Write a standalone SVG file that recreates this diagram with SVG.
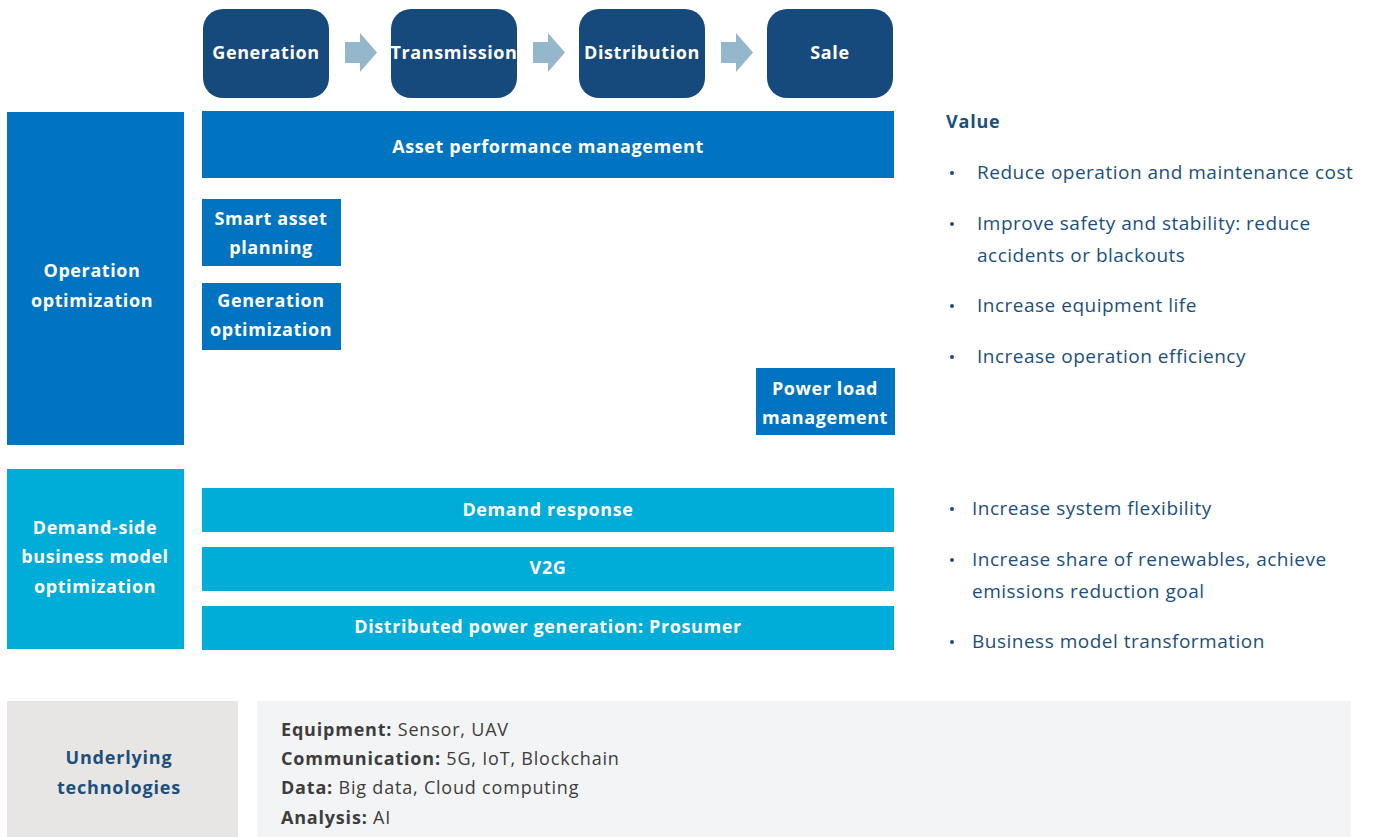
<svg xmlns="http://www.w3.org/2000/svg" width="1373" height="837" viewBox="0 0 1373 837">
<defs>
<style>
.stage{fill:#174a7c}
.op{fill:#0074c0}
.dm{fill:#00acd8}
.wb{font-family:"Open Sans","Liberation Sans",sans-serif;font-weight:700;font-size:18px;letter-spacing:0.6px;fill:#ffffff;text-anchor:middle}
.val{font-family:"Open Sans","Liberation Sans",sans-serif;font-size:19px;letter-spacing:0.5px;fill:#1c4f7c}
.valh{font-family:"Open Sans","Liberation Sans",sans-serif;font-size:18px;letter-spacing:0.8px;font-weight:700;fill:#1c4f7c}
.tech{font-family:"Open Sans","Liberation Sans",sans-serif;font-size:18px;letter-spacing:0.8px;fill:#3d3d3d}
.techb{font-weight:700}
.arrow{fill:#94b7cc}
</style>
</defs>
<rect width="1373" height="837" fill="#ffffff"/>
<g id="connectors">
<polygon class="arrow" points="345,42 360,42 360,33 377,52.5 360,72 360,63 345,63"/>
<polygon class="arrow" points="533,42 548,42 548,33 565,52.5 548,72 548,63 533,63"/>
<polygon class="arrow" points="721,42 736,42 736,33 753,52.5 736,72 736,63 721,63"/>
</g>
<g id="node-generation"><rect class="stage" x="203" y="9" width="126" height="89" rx="20"/><text class="wb" x="266" y="59">Generation</text></g>
<g id="node-transmission"><rect class="stage" x="391" y="9" width="126" height="89" rx="20"/><text class="wb" x="454" y="59">Transmission</text></g>
<g id="node-distribution"><rect class="stage" x="579" y="9" width="126" height="89" rx="20"/><text class="wb" x="642" y="59">Distribution</text></g>
<g id="node-sale"><rect class="stage" x="767" y="9" width="126" height="89" rx="20"/><text class="wb" x="830" y="59">Sale</text></g>

<g id="node-operation"><rect class="op" x="7" y="112" width="177" height="333"/><text class="wb" x="92" y="277">Operation</text><text class="wb" x="92" y="307">optimization</text></g>
<g id="node-apm"><rect class="op" x="202" y="111" width="692" height="67"/><text class="wb" x="548" y="153">Asset performance management</text></g>
<g id="node-sap"><rect class="op" x="202" y="199" width="139" height="67"/><text class="wb" x="271" y="225">Smart asset</text><text class="wb" x="271" y="254">planning</text></g>
<g id="node-genopt"><rect class="op" x="202" y="283" width="139" height="67"/><text class="wb" x="271" y="307">Generation</text><text class="wb" x="271" y="336">optimization</text></g>
<g id="node-plm"><rect class="op" x="756" y="368" width="139" height="67"/><text class="wb" x="825" y="395">Power load</text><text class="wb" x="825" y="424">management</text></g>

<g id="node-demandside"><rect class="dm" x="7" y="469" width="177" height="180"/><text class="wb" x="95" y="534">Demand-side</text><text class="wb" x="95" y="563">business model</text><text class="wb" x="95" y="593">optimization</text></g>
<g id="node-dr"><rect class="dm" x="202" y="488" width="692" height="44"/><text class="wb" x="548" y="516">Demand response</text></g>
<g id="node-v2g"><rect class="dm" x="202" y="547" width="692" height="44"/><text class="wb" x="548" y="574">V2G</text></g>
<g id="node-dpg"><rect class="dm" x="202" y="606" width="692" height="44"/><text class="wb" x="548" y="633">Distributed power generation: Prosumer</text></g>

<g id="values-operation">
<text class="valh" x="946" y="128">Value</text>
<circle cx="952" cy="173" r="2" fill="#1c4f7c"/><text class="val" x="977" y="179">Reduce operation and maintenance cost</text>
<circle cx="952" cy="224" r="2" fill="#1c4f7c"/><text class="val" x="977" y="230">Improve safety and stability: reduce</text><text class="val" x="977" y="262">accidents or blackouts</text>
<circle cx="952" cy="306" r="2" fill="#1c4f7c"/><text class="val" x="977" y="312">Increase equipment life</text>
<circle cx="952" cy="357" r="2" fill="#1c4f7c"/><text class="val" x="977" y="363">Increase operation efficiency</text>
</g>
<g id="values-demand">
<circle cx="952" cy="509" r="2" fill="#1c4f7c"/><text class="val" x="972" y="515">Increase system flexibility</text>
<circle cx="952" cy="560" r="2" fill="#1c4f7c"/><text class="val" x="972" y="566">Increase share of renewables, achieve</text><text class="val" x="972" y="598">emissions reduction goal</text>
<circle cx="952" cy="642" r="2" fill="#1c4f7c"/><text class="val" x="972" y="648">Business model transformation</text>
</g>

<g id="node-underlying"><rect x="7" y="701" width="231" height="136" fill="#e8e6e4"/><text class="valh" x="119" y="764" text-anchor="middle">Underlying</text><text class="valh" x="119" y="794" text-anchor="middle">technologies</text></g>
<g id="node-techlist"><rect x="257" y="701" width="1094" height="136" fill="#f3f4f6"/>
<text class="tech" x="281" y="736"><tspan class="techb">Equipment:</tspan> Sensor, UAV</text>
<text class="tech" x="281" y="765"><tspan class="techb">Communication:</tspan> 5G, IoT, Blockchain</text>
<text class="tech" x="281" y="794"><tspan class="techb">Data:</tspan> Big data, Cloud computing</text>
<text class="tech" x="281" y="824"><tspan class="techb">Analysis:</tspan> AI</text>
</g>
</svg>
